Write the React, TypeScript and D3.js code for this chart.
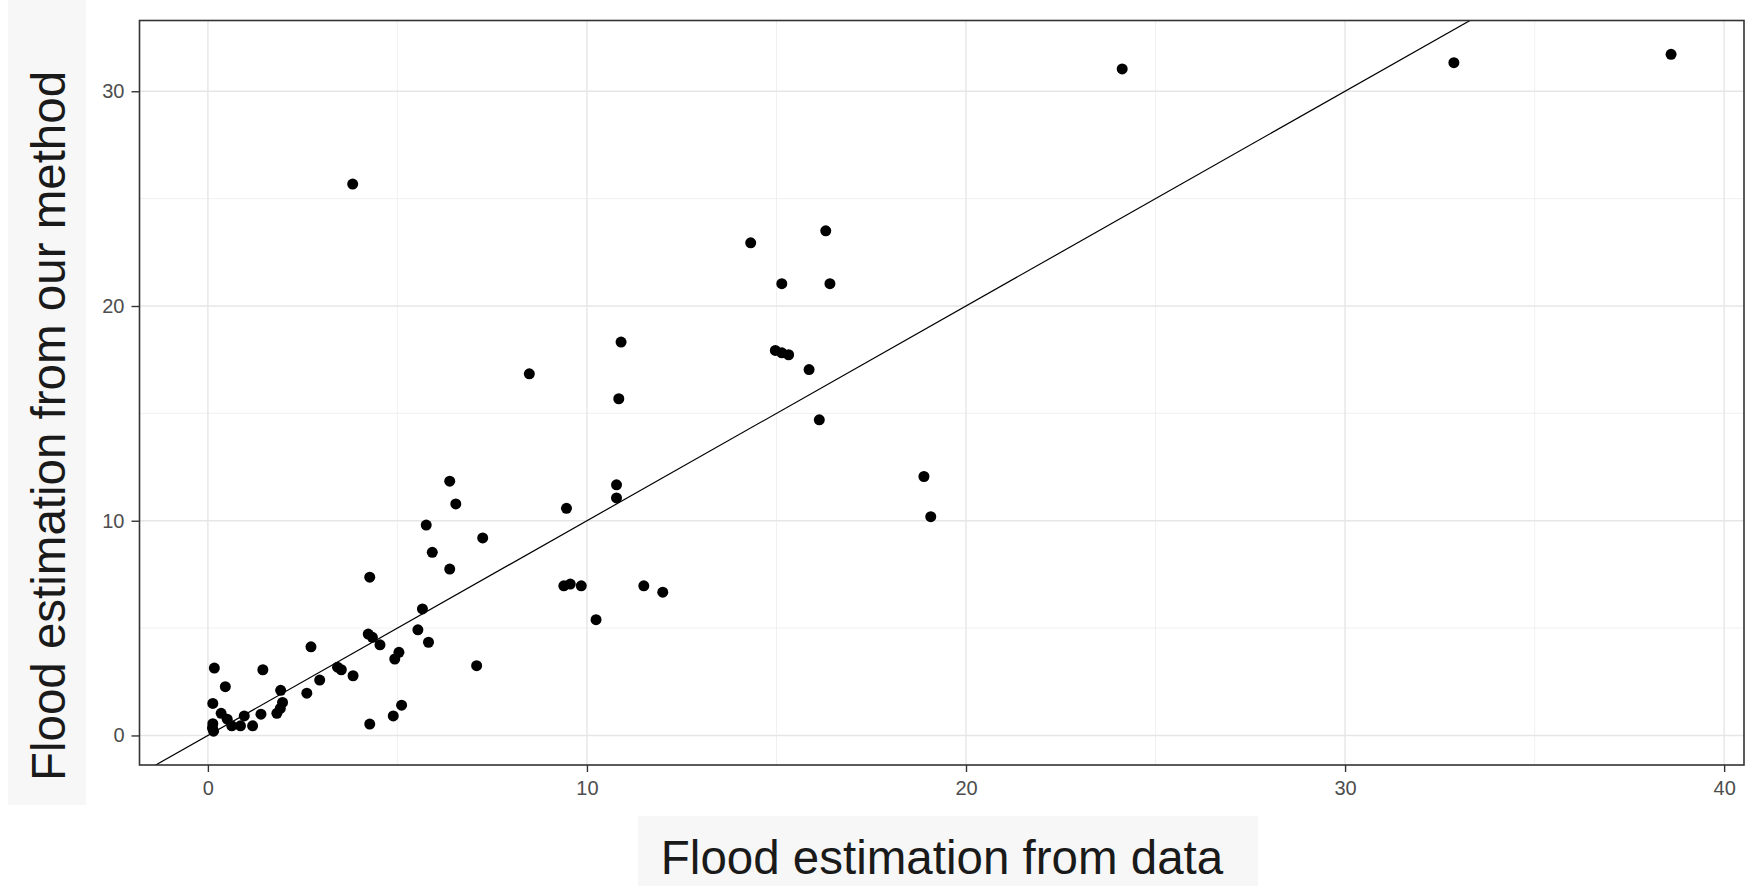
import React, { useEffect, useRef } from "react";
import * as d3 from "d3";

// flood estimates
const fromData = [
  0.17, 1.45, 0.46, 0.13, 0.13, 0.12, 0.15, 0.35, 0.51, 0.63, 0.86, 0.96, 1.18, 1.4,
  1.82, 1.91, 1.97, 1.92, 2.61, 2.72, 2.95, 3.42, 3.52, 3.83, 3.82, 4.27, 4.23, 4.34,
  4.54, 4.27, 4.89, 5.11, 4.93, 5.04, 5.54, 5.66, 5.82, 5.76, 5.92, 6.38, 6.38, 6.54,
  7.09, 7.25, 8.48, 9.39, 9.56, 9.85, 9.46, 10.24, 10.78, 10.78, 10.84, 10.9, 11.5,
  12.0, 14.32, 14.97, 15.14, 15.32, 15.14, 15.86, 16.13, 16.3, 16.41, 18.89, 19.07,
  24.12, 32.87, 38.6,
];
const fromMethod = [
  3.14, 3.06, 2.27, 1.49, 0.55, 0.35, 0.2, 1.03, 0.76, 0.45, 0.45, 0.91, 0.45, 0.99,
  1.03, 1.26, 1.54, 2.1, 1.97, 4.13, 2.58, 3.18, 3.06, 2.78, 25.68, 7.37, 4.72, 4.57,
  4.22, 0.53, 0.91, 1.41, 3.56, 3.87, 4.92, 5.89, 4.34, 9.8, 8.53, 7.75, 11.84, 10.78,
  3.25, 9.2, 16.84, 6.97, 7.05, 6.97, 10.58, 5.39, 11.67, 11.06, 15.68, 18.32, 6.97,
  6.67, 22.94, 17.93, 17.82, 17.73, 21.04, 17.04, 14.7, 23.5, 21.04, 12.06, 10.19,
  31.04, 31.33, 31.72,
];
const xTicks = [0, 10, 20, 30, 40];
const yTicks = [0, 10, 20, 30];
const xMinor = [5, 15, 25, 35];
const yMinor = [5, 15, 25];

const W = 1752;
const H = 886;

const FloodScatter = () => {
  const svgRef = useRef(null);

  useEffect(() => {
    const panel = { left: 139.5, right: 1744, top: 20.5, bottom: 765 };
    const font = "'Liberation Sans', Arial, sans-serif";

    const svg = d3.select(svgRef.current);
    svg.selectAll("*").remove();
    svg.attr("width", W).attr("height", H);

    const points = fromData.map((x, i) => ({ x, y: fromMethod[i] }));

    // ggplot style 5% expansion
    const expand = (ext) => {
      const pad = (ext[1] - ext[0]) * 0.05;
      return [ext[0] - pad, ext[1] + pad];
    };
    const x = d3
      .scaleLinear()
      .domain(expand(d3.extent(points, (d) => d.x)))
      .range([panel.left, panel.right]);
    const y = d3
      .scaleLinear()
      .domain(expand(d3.extent(points, (d) => d.y)))
      .range([panel.bottom, panel.top]);

    svg.append("rect").attr("width", W).attr("height", H).attr("fill", "#fff");

    // title backgrounds
    svg.append("rect").attr("x", 8).attr("y", 0).attr("width", 78).attr("height", 805).attr("fill", "#f7f7f7");
    svg.append("rect").attr("x", 638).attr("y", 816).attr("width", 620).attr("height", 70).attr("fill", "#f7f7f7");

    svg
      .append("defs")
      .append("clipPath")
      .attr("id", "panel-clip")
      .append("rect")
      .attr("x", panel.left)
      .attr("y", panel.top)
      .attr("width", panel.right - panel.left)
      .attr("height", panel.bottom - panel.top);

    const grid = svg.append("g");
    // minor grid
    grid
      .selectAll(".xminor")
      .data(xMinor)
      .join("line")
      .attr("x1", (d) => x(d))
      .attr("x2", (d) => x(d))
      .attr("y1", panel.top)
      .attr("y2", panel.bottom)
      .attr("stroke", "#ececec")
      .attr("stroke-width", 0.8);
    grid
      .selectAll(".yminor")
      .data(yMinor)
      .join("line")
      .attr("x1", panel.left)
      .attr("x2", panel.right)
      .attr("y1", (d) => y(d))
      .attr("y2", (d) => y(d))
      .attr("stroke", "#ececec")
      .attr("stroke-width", 0.8);
    // major grid
    grid
      .selectAll(".xmajor")
      .data(xTicks)
      .join("line")
      .attr("x1", (d) => x(d))
      .attr("x2", (d) => x(d))
      .attr("y1", panel.top)
      .attr("y2", panel.bottom)
      .attr("stroke", "#e6e6e6")
      .attr("stroke-width", 1.4);
    grid
      .selectAll(".ymajor")
      .data(yTicks)
      .join("line")
      .attr("x1", panel.left)
      .attr("x2", panel.right)
      .attr("y1", (d) => y(d))
      .attr("y2", (d) => y(d))
      .attr("stroke", "#e6e6e6")
      .attr("stroke-width", 1.4);

    // points
    svg
      .append("g")
      .selectAll("circle")
      .data(points)
      .join("circle")
      .attr("cx", (d) => x(d.x))
      .attr("cy", (d) => y(d.y))
      .attr("r", 5.5)
      .attr("fill", "#000");

    // y = x reference line
    const [lo, hi] = x.domain();
    svg
      .append("path")
      .datum([lo, hi])
      .attr("clip-path", "url(#panel-clip)")
      .attr("fill", "none")
      .attr("stroke", "#000")
      .attr("stroke-width", 1.2)
      .attr(
        "d",
        d3
          .line()
          .x((d) => x(d))
          .y((d) => y(d))
      );

    // panel border
    svg
      .append("rect")
      .attr("x", panel.left)
      .attr("y", panel.top)
      .attr("width", panel.right - panel.left)
      .attr("height", panel.bottom - panel.top)
      .attr("fill", "none")
      .attr("stroke", "#333")
      .attr("stroke-width", 1.6);

    // axes
    const xAxis = svg
      .append("g")
      .attr("transform", `translate(0,${panel.bottom})`)
      .call(d3.axisBottom(x).tickValues(xTicks).tickSize(7).tickPadding(9));
    const yAxis = svg
      .append("g")
      .attr("transform", `translate(${panel.left},0)`)
      .call(d3.axisLeft(y).tickValues(yTicks).tickSize(8).tickPadding(7));
    [xAxis, yAxis].forEach((g) => {
      g.select(".domain").remove();
      g.selectAll(".tick line").attr("stroke", "#333").attr("stroke-width", 1.4);
      g.selectAll(".tick text")
        .attr("fill", "#4d4d4d")
        .attr("font-family", font)
        .attr("font-size", 20);
    });

    // axis titles
    svg
      .append("text")
      .attr("x", 942)
      .attr("y", 874)
      .attr("text-anchor", "middle")
      .attr("font-family", font)
      .attr("font-size", 47.5)
      .attr("fill", "#1a1a1a")
      .text("Flood estimation from data");
    svg
      .append("text")
      .attr("transform", "translate(65,426) rotate(-90)")
      .attr("text-anchor", "middle")
      .attr("font-family", font)
      .attr("font-size", 47.5)
      .attr("fill", "#1a1a1a")
      .text("Flood estimation from our method");
  }, []);

  return <svg ref={svgRef} style={{ position: "fixed", left: 0, top: 0, display: "block" }}></svg>;
};

export default function App() {
  return <FloodScatter />;
}
